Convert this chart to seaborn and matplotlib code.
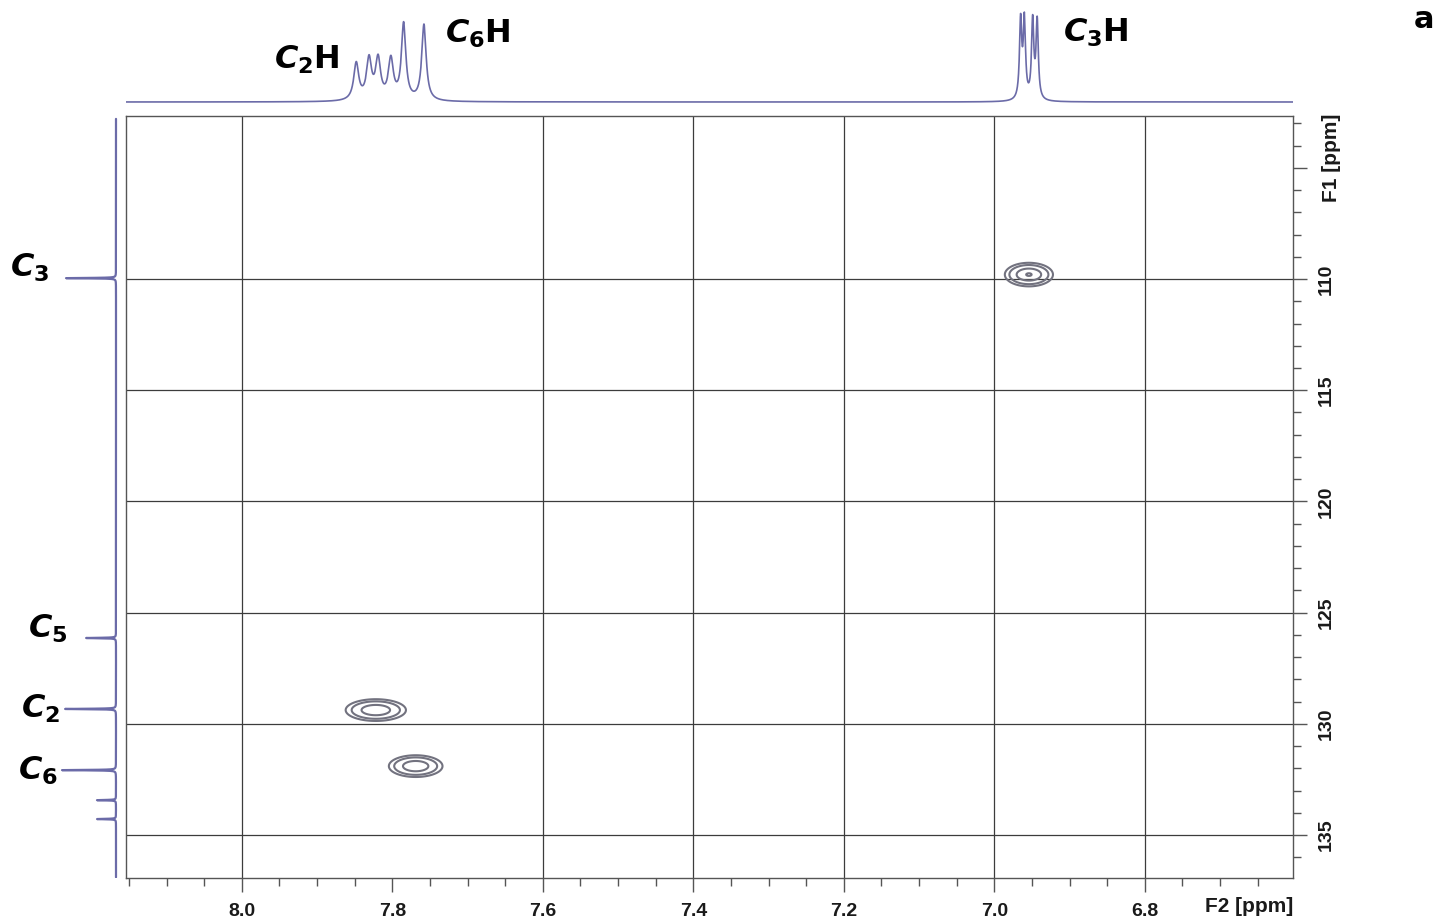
"""
HSQC 2D NMR spectrum with 1H trace on top and 13C trace on the left.
"""

import numpy as np
import matplotlib
matplotlib.use("Agg")
import matplotlib.pyplot as plt
import seaborn as sns

# 1H lines: position (ppm), height (px), half-width (ppm)
h_shift = [7.848, 7.831, 7.819, 7.802, 7.785, 7.758, 6.965, 6.960, 6.949, 6.943]
h_height = [37, 40, 40, 40, 76, 76, 78, 78, 78, 78]
h_width = [0.004, 0.004, 0.004, 0.004, 0.0035, 0.0035, 0.0018, 0.0018, 0.0018, 0.0018]

# 13C lines: position (ppm), height (px)
c_shift = [109.96, 126.14, 129.33, 132.08, 133.43, 134.28]
c_height = [50, 30, 51, 54, 19, 19]

# cross peaks: F2 (ppm), F1 (ppm), sigma F2, sigma F1, amplitude
xp_f2 = [6.954, 7.822, 7.769]
xp_f1 = [109.8, 129.38, 131.9]
xp_sf2 = [0.0149, 0.0191, 0.0170]
xp_sf1 = [0.247, 0.233, 0.233]
xp_amp = [1.0, 0.9, 0.9]
levels = [0.1, 0.22, 0.55, 0.97]

# labels: atom, index, left x (px), baseline y (px), with H
atom_labels = [("C", "2", 274, 69, True), ("C", "6", 445, 43, True), ("C", "3", 1063, 42, True),
               ("C", "3", 10, 277, False), ("C", "5", 28, 638, False),
               ("C", "2", 21, 718, False), ("C", "6", 18, 780, False)]

x_major = [8.0, 7.8, 7.6, 7.4, 7.2, 7.0, 6.8]
x_grid = [8.0, 7.6, 7.4, 7.2, 7.0, 6.8]
y_major = [105, 110, 115, 120, 125, 130, 135]
y_labels = ["", "110", "115", "120", "125", "130", "135"]

F2_LIM = (8.154, 6.603)
F1_LIM = (136.93, 102.67)

TRACE = "#6b6ba8"
CONT = "#72727f"
GRID = "#3c3c3c"

sns.set_style("white")
plt.rcParams["mathtext.fontset"] = "custom"
plt.rcParams["mathtext.it"] = "DejaVu Sans:italic:bold"
plt.rcParams["mathtext.bf"] = "DejaVu Sans:bold"
plt.rcParams["mathtext.rm"] = "DejaVu Sans:bold"

W, H = 1439, 921
fig = plt.figure(figsize=(W / 100, H / 100), dpi=100)


def rect(x0, y0, x1, y1):
    return [x0 / W, 1 - y1 / H, (x1 - x0) / W, (y1 - y0) / H]


ax = fig.add_axes(rect(126, 116, 1293, 878))
ax_top = fig.add_axes(rect(126, 5, 1293, 106), sharex=ax)
ax_left = fig.add_axes(rect(40, 116, 120, 878), sharey=ax)

# --- 2D contour ---
gx = np.linspace(6.6, 8.16, 1600)
gy = np.linspace(102.5, 137.0, 1400)
X, Y = np.meshgrid(gx, gy)
Z = np.zeros_like(X)
for f2, f1, s2, s1, a in zip(xp_f2, xp_f1, xp_sf2, xp_sf1, xp_amp):
    Z += a * np.exp(-0.5 * (((X - f2) / s2) ** 2 + ((Y - f1) / s1) ** 2))
ax.contour(X, Y, Z, levels=levels, colors=CONT, linewidths=1.5)

for v in x_grid:
    ax.axvline(v, color=GRID, lw=0.9, zorder=0)
for v in y_major[1:]:
    ax.axhline(v, color=GRID, lw=0.9, zorder=0)

ax.set_xlim(*F2_LIM)
ax.set_ylim(*F1_LIM)
ax.yaxis.tick_right()
ax.set_xticks(x_major)
ax.set_xticklabels([f"{v:.1f}" for v in x_major])
ax.set_xticks(np.arange(6.65, 8.16, 0.05), minor=True)
ax.set_yticks(y_major)
ax.set_yticklabels(y_labels, rotation=90, va="center")
ax.set_yticks(np.arange(103, 137, 1), minor=True)
ax.tick_params(axis="both", which="major", length=10, width=1, color="#555555",
               direction="out", labelsize=14, labelcolor="#1a1a1a", pad=8)
ax.tick_params(axis="both", which="minor", length=6, width=1, color="#555555",
               direction="out")
ax.tick_params(axis="y", which="both", left=False, right=True, labelleft=False, labelright=True)
ax.tick_params(axis="x", which="both", bottom=True, top=False)
for lab in ax.get_xticklabels() + ax.get_yticklabels():
    lab.set_fontfamily("Liberation Sans")
    lab.set_fontweight("bold")
for s in ax.spines.values():
    s.set_color("#555555")
    s.set_linewidth(1.0)
ax.set_xlabel("")
ax.set_ylabel("")

ax.text(1.0, -0.038, "F2 [ppm]", transform=ax.transAxes, ha="right", va="center",
        fontsize=15, fontweight="bold", family="Liberation Sans", color="#1a1a1a")
ax.text(1.025, 0.945, "F1 [ppm]", transform=ax.transAxes, ha="left", va="center",
        rotation=90, fontsize=15, fontweight="bold", family="Liberation Sans", color="#1a1a1a")

# --- 1H trace ---
hx = np.linspace(F2_LIM[1], F2_LIM[0], 12000)
hy = np.zeros_like(hx)
for p, h, g in zip(h_shift, h_height, h_width):
    hy += h / (1 + ((hx - p) / g) ** 2)
sns.lineplot(x=hx, y=hy, ax=ax_top, color=TRACE, lw=1.2, estimator=None, sort=False)
ax_top.set_ylim(-4, 97)
ax_top.axis("off")

# --- 13C trace ---
cy = np.linspace(102.8, 136.9, 20000)
cx = np.zeros_like(cy)
for p, h in zip(c_shift, c_height):
    cx += h / (1 + ((cy - p) / 0.012) ** 2)
sns.lineplot(x=cx, y=cy, ax=ax_left, color=TRACE, lw=1.6, estimator=None,
             sort=False, orient="y")
ax_left.set_xlim(76, -4)
ax_left.axis("off")

# --- labels ---
for c, n, x, y, with_h in atom_labels:
    s = rf"$\mathit{{{c}}}_{{\mathbf{{{n}}}}}$" + ("H" if with_h else "")
    fig.text(x / W, 1 - y / H, s, ha="left", va="baseline", fontsize=23,
             fontweight="bold", color="black")
fig.text(1414 / W, 1 - 28 / H, "a", ha="left", va="baseline", fontsize=22,
         fontweight="bold", color="black")

fig.savefig("out.png", dpi=100)
